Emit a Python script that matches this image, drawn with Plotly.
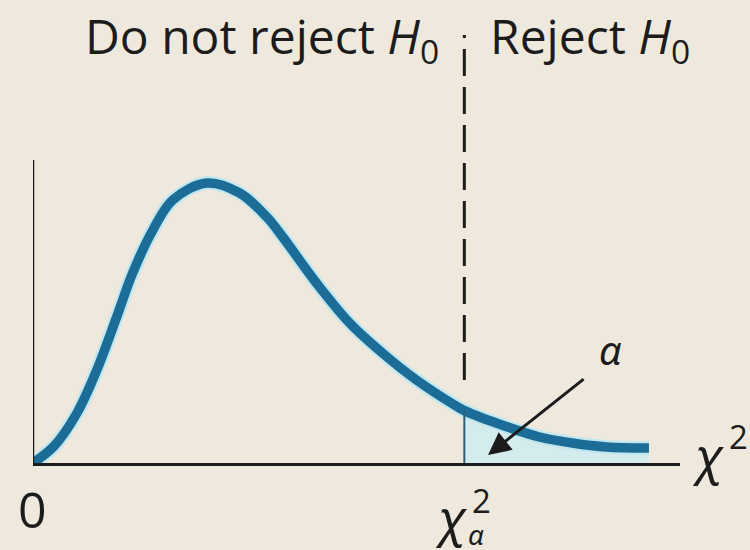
import plotly.graph_objects as go

# Chi-square density curve (x in chi-square units, y = density)
curve_x = [0.0, 0.49, 1.02, 1.48, 1.94, 2.31, 2.78, 3.24, 4.03, 4.79, 5.42, 5.79,
           6.57, 7.34, 8.10, 8.89, 9.81, 10.0, 10.74, 11.74, 12.5, 13.29, 14.28]
curve_y = [0.0, 0.0085, 0.025, 0.0465, 0.073, 0.095, 0.1165, 0.1315, 0.140, 0.135,
           0.123, 0.113, 0.090, 0.070, 0.055, 0.0415, 0.0285, 0.0262, 0.020, 0.013,
           0.010, 0.008, 0.0075]

crit = 10.0                      # critical value chi^2_alpha
x_max = 15.0                     # end of horizontal axis
y_axis_top = 0.1515              # top of vertical axis
region_labels = ["Do not reject <i>H</i><sub>0</sub>", "Reject <i>H</i><sub>0</sub>"]

BG = "#efe9dd"
INK = "#1c1c1c"
CURVE = "#1b6c97"
TEXT_FONT = "Open Sans"
MATH_FONT = "Noto Sans"

i_crit = curve_x.index(crit)
tail_x = curve_x[i_crit:]
tail_y = curve_y[i_crit:]

fig = go.Figure()

# shaded rejection region (alpha)
fig.add_trace(go.Scatter(
    x=tail_x, y=tail_y, mode="lines", line=dict(width=0, shape="spline"),
    fill="tozeroy", fillcolor="#d5ecee", hoverinfo="skip", showlegend=False))

# soft halo around the curve
fig.add_trace(go.Scatter(
    x=curve_x, y=curve_y, mode="lines",
    line=dict(color="#c2e7ee", width=14, shape="spline"),
    hoverinfo="skip", showlegend=False))

# density curve
fig.add_trace(go.Scatter(
    x=curve_x, y=curve_y, mode="lines",
    line=dict(color=CURVE, width=9.5, shape="spline"),
    hoverinfo="skip", showlegend=False))

shapes = [
    # vertical axis
    dict(type="line", xref="x", yref="y", x0=0, x1=0, y0=0, y1=y_axis_top,
         line=dict(color=INK, width=2.5)),
    # dashed divider between regions
    dict(type="line", xref="x", yref="y", x0=crit, x1=crit, y0=0.0415, y1=0.214,
         line=dict(color=INK, width=3, dash="27px,11px")),
    # thin edge of the shaded region
    dict(type="line", xref="x", yref="y", x0=crit, x1=crit, y0=0, y1=curve_y[i_crit],
         line=dict(color="#2a5f7c", width=2)),
]

head = dict(family=TEXT_FONT, size=48, color=INK)
chi_font = dict(family=MATH_FONT, size=50, color=INK)
sup_font = dict(family=TEXT_FONT, size=33, color=INK)


def note(x, y, text, font, xs=0, ys=0, xanchor="center"):
    return dict(x=x, y=y, xref="x", yref="y", text=text, showarrow=False,
                xanchor=xanchor, yanchor="middle", xshift=xs, yshift=ys, font=font)


annotations = [
    note(9.45, 0.2125, region_labels[0], head, xanchor="right"),
    note(10.55, 0.2125, region_labels[1], head, xanchor="left"),
    # origin label
    note(0, 0, "0", dict(family=TEXT_FONT, size=50, color=INK), xs=-1, ys=-46),
    # chi^2_alpha under the critical value
    note(crit, 0, "<i>χ</i>", chi_font, xs=-13, ys=-54),
    note(crit, 0, "2", sup_font, xs=17, ys=-37),
    note(crit, 0, "<i>α</i>", dict(family=MATH_FONT, size=28, color=INK), xs=12, ys=-71),
    # chi^2 at the end of the axis
    note(x_max, 0, "<i>χ</i>", chi_font, xs=28, ys=8),
    note(x_max, 0, "2", sup_font, xs=58, ys=27),
    # alpha pointer
    dict(x=10.55, y=0.004, ax=12.8, ay=0.0425, xref="x", yref="y",
         axref="x", ayref="y", text="", showarrow=True, arrowhead=2,
         arrowsize=1.5, arrowwidth=3, arrowcolor=INK),
    note(13.38, 0.055, "<i>α</i>", dict(family=MATH_FONT, size=40, color=INK), ys=4),
]

fig.update_layout(
    width=750, height=550,
    margin=dict(l=33, r=70, t=0, b=87),
    paper_bgcolor=BG, plot_bgcolor=BG,
    showlegend=False,
    shapes=shapes,
    annotations=annotations,
    xaxis=dict(range=[0, x_max], showgrid=False, zeroline=False, showticklabels=False,
               ticks="", showline=True, linecolor=INK, linewidth=2.5, fixedrange=True),
    yaxis=dict(range=[0, 0.2315], visible=False, fixedrange=True),
)

fig.write_html("out.html")
